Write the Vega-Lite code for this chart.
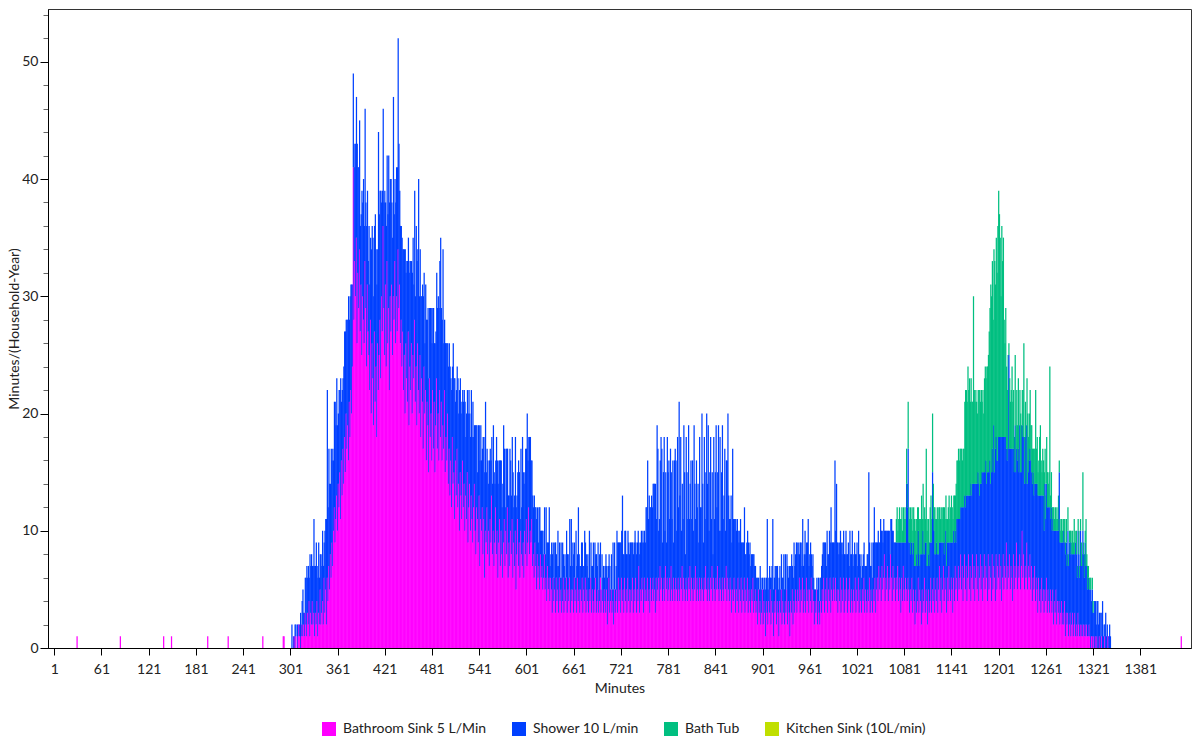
{
"$schema": "https://vega.github.io/schema/vega-lite/v6.json",
"width": 1143,
"height": 639,
"autosize": {"type": "none"},
"padding": {"left": 48, "top": 9, "right": 1, "bottom": 94},
"background": "white",
"config": {
  "view": {"stroke": "#333333", "strokeWidth": 1},
  "font": "Lato",
  "axis": {"labelFont": "Lato", "labelFontSize": 14, "labelColor": "#222222", "titleFont": "Lato", "titleFontSize": 14, "titleFontWeight": "normal", "titleColor": "#222222", "domainColor": "#000000", "tickColor": "#000000", "grid": false}
},
"data": {"values": [
{"m":30,"a":1},{"m":85,"a":1},{"m":140,"a":1},{"m":150,"a":1},{"m":196,"a":1},{"m":222,"a":1},{"m":266,"a":1},{"m":292,"a":1},{"m":293,"a":1},
{"m":303,"b":2},{"m":305,"b":1},{"m":306,"a":1},{"m":307,"b":2},{"m":308,"a":1,"b":1},{"m":310,"b":2},
{"m":311,"a":1,"b":1},{"m":312,"a":2},{"m":313,"a":1,"b":1},{"m":314,"b":3},{"m":315,"a":1,"b":1},{"m":316,"a":2,"b":2},{"m":317,"a":1,"b":4},{"m":318,"a":2,"b":1},{"m":319,"a":1,"b":2},{"m":320,"a":3,"b":3},
{"m":321,"a":2,"b":4},{"m":322,"a":1,"b":6},{"m":323,"a":3,"b":3},{"m":324,"a":2,"b":5},{"m":325,"a":4,"b":2},{"m":326,"a":1,"b":7},{"m":327,"a":3,"b":4},{"m":328,"a":2,"b":6},{"m":329,"a":4,"b":3},{"m":330,"a":2,"b":5},
{"m":331,"a":3,"b":8},{"m":332,"a":1,"b":6},{"m":333,"a":3,"b":4},{"m":334,"a":2,"b":7},{"m":335,"a":4,"b":3},{"m":336,"a":1,"b":5},{"m":337,"a":3,"b":6},{"m":338,"a":2,"b":4},{"m":339,"a":5,"b":3},{"m":340,"a":2,"b":6},
{"m":341,"a":3,"b":4},{"m":342,"a":4,"b":6},{"m":343,"a":2,"b":5},{"m":344,"a":6,"b":3},{"m":345,"a":3,"b":7},{"m":346,"a":5,"b":6},{"m":347,"a":2,"b":9},{"m":348,"a":6,"b":16},{"m":349,"a":4,"b":8},{"m":350,"a":7,"b":10},
{"m":351,"a":5,"b":9},{"m":352,"a":8,"b":6},{"m":353,"a":6,"b":11},{"m":354,"a":9,"b":7},{"m":355,"a":7,"b":10},{"m":356,"a":10,"b":6},{"m":357,"a":12,"b":9},{"m":358,"a":9,"b":12},{"m":359,"a":11,"b":8},{"m":360,"a":13,"b":10},
{"m":361,"a":10,"b":9},{"m":362,"a":14,"b":6},{"m":363,"a":12,"b":10},{"m":364,"a":15,"b":7},{"m":365,"a":11,"b":12},{"m":366,"a":16,"b":5},{"m":367,"a":13,"b":9},{"m":368,"a":17,"b":6},{"m":369,"a":14,"b":10},{"m":370,"a":18,"b":9},
{"m":371,"a":15,"b":12},{"m":372,"a":20,"b":8},{"m":373,"a":17,"b":11},{"m":374,"a":19,"b":9},{"m":375,"a":16,"b":14},{"m":376,"a":21,"b":7},{"m":377,"a":18,"b":12},{"m":378,"a":22,"b":9},{"m":379,"a":20,"b":11},{"m":380,"a":24,"b":7},
{"m":381,"a":41,"b":8},{"m":382,"a":28,"b":15},{"m":383,"a":33,"b":8},{"m":384,"a":30,"b":13},{"m":385,"a":35,"b":12},{"m":386,"a":26,"b":17},{"m":387,"a":32,"b":9},{"m":388,"a":29,"b":12},{"m":389,"a":34,"b":11},{"m":390,"a":27,"b":9},
{"m":391,"a":31,"b":6},{"m":392,"a":25,"b":14},{"m":393,"a":30,"b":8},{"m":394,"a":28,"b":12},{"m":395,"a":26,"b":10},{"m":396,"a":33,"b":13},{"m":397,"a":29,"b":9},{"m":398,"a":24,"b":12},{"m":399,"a":31,"b":8},{"m":400,"a":27,"b":6},
{"m":401,"a":25,"b":11},{"m":402,"a":22,"b":9},{"m":403,"a":28,"b":7},{"m":404,"a":20,"b":14},{"m":405,"a":26,"b":10},{"m":406,"a":23,"b":12},{"m":407,"a":19,"b":11},{"m":408,"a":27,"b":9},{"m":409,"a":21,"b":16},{"m":410,"a":24,"b":10},
{"m":411,"a":18,"b":13},{"m":412,"a":26,"b":8},{"m":413,"a":22,"b":22},{"m":414,"a":25,"b":12},{"m":415,"a":28,"b":11},{"m":416,"a":23,"b":16},{"m":417,"a":30,"b":8},{"m":418,"a":27,"b":12},{"m":419,"a":36,"b":10},{"m":420,"a":29,"b":9},
{"m":421,"a":25,"b":14},{"m":422,"a":31,"b":7},{"m":423,"a":24,"b":12},{"m":424,"a":33,"b":9},{"m":425,"a":26,"b":11},{"m":426,"a":29,"b":13},{"m":427,"a":22,"b":16},{"m":428,"a":30,"b":10},{"m":429,"a":27,"b":13},{"m":430,"a":31,"b":7},
{"m":431,"a":25,"b":10},{"m":432,"a":30,"b":17},{"m":433,"a":28,"b":9},{"m":434,"a":33,"b":7},{"m":435,"a":26,"b":12},{"m":436,"a":30,"b":11},{"m":437,"a":27,"b":14},{"m":438,"a":34,"b":18},{"m":439,"a":29,"b":14},{"m":440,"a":31,"b":8},
{"m":441,"a":26,"b":10},{"m":442,"a":28,"b":8},{"m":443,"a":24,"b":11},{"m":444,"a":27,"b":7},{"m":445,"a":22,"b":12},{"m":446,"a":25,"b":9},{"m":447,"a":20,"b":14},{"m":448,"a":26,"b":6},{"m":449,"a":23,"b":10},{"m":450,"a":21,"b":12},
{"m":451,"a":27,"b":8},{"m":452,"a":19,"b":13},{"m":453,"a":24,"b":9},{"m":454,"a":22,"b":11},{"m":455,"a":26,"b":7},{"m":456,"a":20,"b":12},{"m":457,"a":25,"b":10},{"m":458,"a":23,"b":8},{"m":459,"a":28,"b":11},{"m":460,"a":21,"b":9},
{"m":461,"a":24,"b":12},{"m":462,"a":19,"b":14},{"m":463,"a":26,"b":8},{"m":464,"a":22,"b":18},{"m":465,"a":20,"b":10},{"m":466,"a":25,"b":9},{"m":467,"a":18,"b":12},{"m":468,"a":23,"b":7},{"m":469,"a":21,"b":10},{"m":470,"a":17,"b":13},
{"m":471,"a":24,"b":8},{"m":472,"a":20,"b":6},{"m":473,"a":22,"b":9},{"m":474,"a":16,"b":12},{"m":475,"a":21,"b":7},{"m":476,"a":19,"b":10},{"m":477,"a":15,"b":8},{"m":478,"a":23,"b":6},{"m":479,"a":18,"b":11},{"m":480,"a":20,"b":9},
{"m":481,"a":16,"b":10},{"m":482,"a":22,"b":7},{"m":483,"a":17,"b":12},{"m":484,"a":21,"b":5},{"m":485,"a":15,"b":11},{"m":486,"a":19,"b":8},{"m":487,"a":23,"b":9},{"m":488,"a":17,"b":12},{"m":489,"a":20,"b":10},{"m":490,"a":16,"b":13},
{"m":491,"a":22,"b":11},{"m":492,"a":18,"b":17},{"m":493,"a":21,"b":8},{"m":494,"a":16,"b":12},{"m":495,"a":19,"b":15},{"m":496,"a":17,"b":9},{"m":497,"a":22,"b":6},{"m":498,"a":15,"b":11},{"m":499,"a":18,"b":8},{"m":500,"a":16,"b":10},
{"m":501,"a":20,"b":6},{"m":502,"a":14,"b":10},{"m":503,"a":17,"b":9},{"m":504,"a":13,"b":11},{"m":505,"a":16,"b":7},{"m":506,"a":12,"b":10},{"m":507,"a":18,"b":6},{"m":508,"a":14,"b":12},{"m":509,"a":15,"b":8},{"m":510,"a":11,"b":12},
{"m":511,"a":16,"b":5},{"m":512,"a":13,"b":9},{"m":513,"a":17,"b":7},{"m":514,"a":12,"b":11},{"m":515,"a":14,"b":6},{"m":516,"a":10,"b":12},{"m":517,"a":15,"b":8},{"m":518,"a":13,"b":7},{"m":519,"a":11,"b":10},{"m":520,"a":16,"b":6},
{"m":521,"a":12,"b":9},{"m":522,"a":14,"b":8},{"m":523,"a":10,"b":11},{"m":524,"a":13,"b":5},{"m":525,"a":11,"b":9},{"m":526,"a":15,"b":7},{"m":527,"a":9,"b":11},{"m":528,"a":12,"b":10},{"m":529,"a":14,"b":6},{"m":530,"a":10,"b":8},
{"m":531,"a":13,"b":9},{"m":532,"a":11,"b":7},{"m":533,"a":9,"b":12},{"m":534,"a":12,"b":6},{"m":535,"a":14,"b":5},{"m":536,"a":10,"b":9},{"m":537,"a":8,"b":11},{"m":538,"a":12,"b":7},{"m":539,"a":11,"b":4},{"m":540,"a":9,"b":10},
{"m":541,"a":13,"b":6},{"m":542,"a":7,"b":9},{"m":543,"a":11,"b":8},{"m":544,"a":10,"b":6},{"m":545,"a":12,"b":5},{"m":546,"a":8,"b":10},{"m":547,"a":11,"b":7},{"m":548,"a":6,"b":9},{"m":549,"a":10,"b":11},{"m":550,"a":9,"b":6},
{"m":551,"a":12,"b":5},{"m":552,"a":8,"b":8},{"m":553,"a":10,"b":4},{"m":554,"a":7,"b":9},{"m":555,"a":11,"b":6},{"m":556,"a":9,"b":7},{"m":557,"a":13,"b":5},{"m":558,"a":8,"b":6},{"m":559,"a":10,"b":9},{"m":560,"a":7,"b":8},
{"m":561,"a":9,"b":5},{"m":562,"a":12,"b":4},{"m":563,"a":8,"b":10},{"m":564,"a":10,"b":6},{"m":565,"a":6,"b":8},{"m":566,"a":9,"b":7},{"m":567,"a":11,"b":5},{"m":568,"a":7,"b":9},{"m":569,"a":10,"b":6},{"m":570,"a":8,"b":4},
{"m":571,"a":6,"b":8},{"m":572,"a":9,"b":10},{"m":573,"a":11,"b":6},{"m":574,"a":7,"b":5},{"m":575,"a":10,"b":7},{"m":576,"a":8,"b":9},{"m":577,"a":12,"b":5},{"m":578,"a":6,"b":7},{"m":579,"a":9,"b":4},{"m":580,"a":7,"b":10},
{"m":581,"a":10,"b":6},{"m":582,"a":8,"b":5},{"m":583,"a":11,"b":7},{"m":584,"a":6,"b":9},{"m":585,"a":9,"b":3},{"m":586,"a":7,"b":6},{"m":587,"a":10,"b":8},{"m":588,"a":5,"b":7},{"m":589,"a":8,"b":5},{"m":590,"a":11,"b":4},
{"m":591,"a":7,"b":9},{"m":592,"a":9,"b":6},{"m":593,"a":6,"b":5},{"m":594,"a":10,"b":7},{"m":595,"a":8,"b":4},{"m":596,"a":7,"b":11},{"m":597,"a":9,"b":6},{"m":598,"a":6,"b":8},{"m":599,"a":10,"b":5},{"m":600,"a":8,"b":9},
{"m":601,"a":11,"b":6},{"m":602,"a":7,"b":13},{"m":603,"a":9,"b":7},{"m":604,"a":12,"b":6},{"m":605,"a":8,"b":10},{"m":606,"a":10,"b":8},{"m":607,"a":9,"b":7},{"m":608,"a":11,"b":5},{"m":609,"a":7,"b":6},{"m":610,"a":8,"b":4},
{"m":611,"a":6,"b":7},{"m":612,"a":9,"b":3},{"m":613,"a":7,"b":5},{"m":614,"a":5,"b":6},{"m":615,"a":8,"b":4},{"m":616,"a":6,"b":3},{"m":617,"a":7,"b":5},{"m":618,"a":5,"b":7},{"m":619,"a":8,"b":2},{"m":620,"a":6,"b":4},
{"m":621,"a":7,"b":3},{"m":622,"a":5,"b":5},{"m":623,"a":6,"b":2},{"m":624,"a":8,"b":4},{"m":625,"a":5,"b":3},{"m":626,"a":6,"b":6},{"m":627,"a":4,"b":5},{"m":628,"a":7,"b":2},{"m":629,"a":5,"b":4},{"m":630,"a":6,"b":6},
{"m":631,"a":4,"b":3},{"m":632,"a":6,"b":2},{"m":633,"a":5,"b":4},{"m":634,"a":3,"b":5},{"m":635,"a":6,"b":3},{"m":636,"a":4,"b":2},{"m":637,"a":5,"b":4},{"m":638,"a":3,"b":6},{"m":639,"a":6,"b":2},{"m":640,"a":4,"b":3},
{"m":641,"a":5,"b":5},{"m":642,"a":3,"b":4},{"m":643,"a":6,"b":3},{"m":644,"a":4,"b":2},{"m":645,"a":5,"b":4},{"m":646,"a":3,"b":3},{"m":647,"a":4,"b":5},{"m":648,"a":6,"b":2},{"m":649,"a":3,"b":4},{"m":650,"a":5,"b":3},
{"m":651,"a":4,"b":2},{"m":652,"a":6,"b":4},{"m":653,"a":3,"b":5},{"m":654,"a":5,"b":3},{"m":655,"a":4,"b":2},{"m":656,"a":6,"b":5},{"m":657,"a":3,"b":4},{"m":658,"a":5,"b":6},{"m":659,"a":4,"b":3},{"m":660,"a":5,"b":4},
{"m":661,"a":3,"b":5},{"m":662,"a":6,"b":3},{"m":663,"a":4,"b":2},{"m":664,"a":5,"b":5},{"m":665,"a":3,"b":4},{"m":666,"a":6,"b":2},{"m":667,"a":4,"b":8},{"m":668,"a":5,"b":3},{"m":669,"a":3,"b":4},{"m":670,"a":5,"b":2},
{"m":671,"a":4,"b":5},{"m":672,"a":6,"b":3},{"m":673,"a":3,"b":4},{"m":674,"a":5,"b":2},{"m":675,"a":4,"b":6},{"m":676,"a":6,"b":3},{"m":677,"a":3,"b":5},{"m":678,"a":5,"b":2},{"m":679,"a":4,"b":4},{"m":680,"a":3,"b":3},
{"m":681,"a":5,"b":5},{"m":682,"a":4,"b":2},{"m":683,"a":6,"b":3},{"m":684,"a":3,"b":4},{"m":685,"a":5,"b":2},{"m":686,"a":4,"b":5},{"m":687,"a":3,"b":3},{"m":688,"a":5,"b":4},{"m":689,"a":6,"b":2},{"m":690,"a":3,"b":5},
{"m":691,"a":4,"b":3},{"m":692,"a":5,"b":4},{"m":693,"a":3,"b":2},{"m":694,"a":4,"b":4},{"m":695,"a":6,"b":3},{"m":696,"a":3,"b":2},{"m":697,"a":5,"b":3},{"m":698,"a":4,"b":2},{"m":699,"a":3,"b":4},{"m":700,"a":5,"b":1},
{"m":701,"a":4,"b":3},{"m":702,"a":3,"b":5},{"m":703,"a":5,"b":2},{"m":704,"a":2,"b":4},{"m":705,"a":4,"b":3},{"m":706,"a":6,"b":2},{"m":707,"a":3,"b":4},{"m":708,"a":4,"b":1},{"m":709,"a":5,"b":3},{"m":710,"a":3,"b":2},
{"m":711,"a":4,"b":5},{"m":712,"a":2,"b":3},{"m":713,"a":5,"b":4},{"m":714,"a":3,"b":2},{"m":715,"a":4,"b":3},{"m":716,"a":5,"b":5},{"m":717,"a":3,"b":6},{"m":718,"a":6,"b":3},{"m":719,"a":4,"b":5},{"m":720,"a":5,"b":4},
{"m":721,"a":3,"b":6},{"m":722,"a":6,"b":4},{"m":723,"a":4,"b":9},{"m":724,"a":5,"b":3},{"m":725,"a":3,"b":5},{"m":726,"a":6,"b":4},{"m":727,"a":4,"b":6},{"m":728,"a":5,"b":3},{"m":729,"a":3,"b":5},{"m":730,"a":6,"b":4},
{"m":731,"a":4,"b":5},{"m":732,"a":5,"b":3},{"m":733,"a":3,"b":6},{"m":734,"a":5,"b":4},{"m":735,"a":4,"b":5},{"m":736,"a":6,"b":3},{"m":737,"a":3,"b":5},{"m":738,"a":5,"b":4},{"m":739,"a":4,"b":6},{"m":740,"a":6,"b":3},
{"m":741,"a":3,"b":5},{"m":742,"a":5,"b":4},{"m":743,"a":4,"b":6},{"m":744,"a":7,"b":2},{"m":745,"a":3,"b":5},{"m":746,"a":5,"b":4},{"m":747,"a":4,"b":6},{"m":748,"a":6,"b":3},{"m":749,"a":5,"b":5},{"m":750,"a":3,"b":6},
{"m":751,"a":6,"b":4},{"m":752,"a":4,"b":5},{"m":753,"a":5,"b":7},{"m":754,"a":4,"b":8},{"m":755,"a":6,"b":10},{"m":756,"a":4,"b":7},{"m":757,"a":5,"b":8},{"m":758,"a":3,"b":9},{"m":759,"a":6,"b":6},{"m":760,"a":4,"b":9},
{"m":761,"a":5,"b":7},{"m":762,"a":6,"b":8},{"m":763,"a":4,"b":10},{"m":764,"a":5,"b":9},{"m":765,"a":3,"b":11},{"m":766,"a":6,"b":5},{"m":767,"a":4,"b":15},{"m":768,"a":5,"b":12},{"m":769,"a":6,"b":4},{"m":770,"a":4,"b":7},
{"m":771,"a":7,"b":9},{"m":772,"a":5,"b":13},{"m":773,"a":6,"b":11},{"m":774,"a":4,"b":5},{"m":775,"a":5,"b":10},{"m":776,"a":6,"b":12},{"m":777,"a":4,"b":6},{"m":778,"a":7,"b":8},{"m":779,"a":5,"b":4},{"m":780,"a":6,"b":12},
{"m":781,"a":4,"b":11},{"m":782,"a":5,"b":11},{"m":783,"a":6,"b":5},{"m":784,"a":4,"b":13},{"m":785,"a":7,"b":8},{"m":786,"a":5,"b":6},{"m":787,"a":4,"b":12},{"m":788,"a":6,"b":3},{"m":789,"a":5,"b":11},{"m":790,"a":4,"b":13},
{"m":791,"a":6,"b":10},{"m":792,"a":5,"b":5},{"m":793,"a":4,"b":14},{"m":794,"a":6,"b":6},{"m":795,"a":5,"b":16},{"m":796,"a":4,"b":9},{"m":797,"a":6,"b":12},{"m":798,"a":5,"b":5},{"m":799,"a":7,"b":7},{"m":800,"a":4,"b":7},
{"m":801,"a":6,"b":13},{"m":802,"a":5,"b":10},{"m":803,"a":4,"b":4},{"m":804,"a":6,"b":12},{"m":805,"a":5,"b":10},{"m":806,"a":4,"b":7},{"m":807,"a":6,"b":13},{"m":808,"a":5,"b":6},{"m":809,"a":7,"b":7},{"m":810,"a":4,"b":12},
{"m":811,"a":6,"b":5},{"m":812,"a":5,"b":11},{"m":813,"a":4,"b":6},{"m":814,"a":6,"b":13},{"m":815,"a":5,"b":9},{"m":816,"a":7,"b":4},{"m":817,"a":4,"b":12},{"m":818,"a":6,"b":6},{"m":819,"a":5,"b":9},{"m":820,"a":4,"b":5},
{"m":821,"a":6,"b":12},{"m":822,"a":5,"b":7},{"m":823,"a":4,"b":8},{"m":824,"a":6,"b":14},{"m":825,"a":5,"b":9},{"m":826,"a":4,"b":5},{"m":827,"a":6,"b":12},{"m":828,"a":5,"b":6},{"m":829,"a":7,"b":8},{"m":830,"a":5,"b":15},
{"m":831,"a":4,"b":10},{"m":832,"a":6,"b":13},{"m":833,"a":5,"b":5},{"m":834,"a":4,"b":11},{"m":835,"a":6,"b":12},{"m":836,"a":5,"b":6},{"m":837,"a":7,"b":8},{"m":838,"a":4,"b":4},{"m":839,"a":6,"b":12},{"m":840,"a":5,"b":6},
{"m":841,"a":4,"b":11},{"m":842,"a":6,"b":13},{"m":843,"a":5,"b":7},{"m":844,"a":7,"b":8},{"m":845,"a":5,"b":14},{"m":846,"a":4,"b":6},{"m":847,"a":6,"b":12},{"m":848,"a":5,"b":5},{"m":849,"a":4,"b":11},{"m":850,"a":6,"b":13},
{"m":851,"a":5,"b":6},{"m":852,"a":4,"b":9},{"m":853,"a":6,"b":11},{"m":854,"a":5,"b":5},{"m":855,"a":7,"b":9},{"m":856,"a":4,"b":12},{"m":857,"a":6,"b":14},{"m":858,"a":5,"b":8},{"m":859,"a":4,"b":7},{"m":860,"a":6,"b":5},
{"m":861,"a":5,"b":8},{"m":862,"a":3,"b":6},{"m":863,"a":5,"b":12},{"m":864,"a":4,"b":7},{"m":865,"a":6,"b":5},{"m":866,"a":5,"b":6},{"m":867,"a":3,"b":8},{"m":868,"a":5,"b":5},{"m":869,"a":4,"b":7},{"m":870,"a":6,"b":4},
{"m":871,"a":3,"b":6},{"m":872,"a":5,"b":5},{"m":873,"a":4,"b":7},{"m":874,"a":6,"b":3},{"m":875,"a":3,"b":6},{"m":876,"a":5,"b":4},{"m":877,"a":4,"b":5},{"m":878,"a":6,"b":6},{"m":879,"a":3,"b":5},{"m":880,"a":5,"b":3},
{"m":881,"a":4,"b":5},{"m":882,"a":6,"b":4},{"m":883,"a":3,"b":6},{"m":884,"a":5,"b":3},{"m":885,"a":4,"b":5},{"m":886,"a":3,"b":4},{"m":887,"a":5,"b":3},{"m":888,"a":4,"b":4},{"m":889,"a":6,"b":2},{"m":890,"a":3,"b":5},
{"m":891,"a":4,"b":3},{"m":892,"a":5,"b":2},{"m":893,"a":3,"b":3},{"m":894,"a":4,"b":2},{"m":895,"a":2,"b":4},{"m":896,"a":5,"b":1},{"m":897,"a":3,"b":2},{"m":898,"a":4,"b":3},{"m":899,"a":2,"b":4},{"m":900,"a":3,"b":2},
{"m":901,"a":5,"b":1},{"m":902,"a":2,"b":3},{"m":903,"a":4,"b":2},{"m":904,"a":3,"b":3},{"m":905,"a":1,"b":4},{"m":906,"a":4,"b":2},{"m":907,"a":3,"b":8},{"m":908,"a":2,"b":3},{"m":909,"a":4,"b":2},{"m":910,"a":3,"b":4},
{"m":911,"a":5,"b":1},{"m":912,"a":2,"b":4},{"m":913,"a":4,"b":3},{"m":914,"a":3,"b":8},{"m":915,"a":1,"b":4},{"m":916,"a":4,"b":2},{"m":917,"a":3,"b":4},{"m":918,"a":5,"b":2},{"m":919,"a":2,"b":5},{"m":920,"a":4,"b":3},
{"m":921,"a":3,"b":2},{"m":922,"a":1,"b":5},{"m":923,"a":4,"b":3},{"m":924,"a":3,"b":2},{"m":925,"a":5,"b":3},{"m":926,"a":2,"b":4},{"m":927,"a":4,"b":2},{"m":928,"a":3,"b":5},{"m":929,"a":2,"b":3},{"m":930,"a":4,"b":4},
{"m":931,"a":3,"b":2},{"m":932,"a":5,"b":3},{"m":933,"a":2,"b":5},{"m":934,"a":4,"b":2},{"m":935,"a":3,"b":4},{"m":936,"a":1,"b":6},{"m":937,"a":4,"b":3},{"m":938,"a":3,"b":5},{"m":939,"a":5,"b":2},{"m":940,"a":2,"b":4},
{"m":941,"a":4,"b":5},{"m":942,"a":3,"b":4},{"m":943,"a":5,"b":3},{"m":944,"a":4,"b":5},{"m":945,"a":3,"b":6},{"m":946,"a":5,"b":3},{"m":947,"a":4,"b":5},{"m":948,"a":6,"b":2},{"m":949,"a":3,"b":6},{"m":950,"a":5,"b":4},
{"m":951,"a":4,"b":3},{"m":952,"a":6,"b":5},{"m":953,"a":3,"b":4},{"m":954,"a":5,"b":3},{"m":955,"a":4,"b":6},{"m":956,"a":3,"b":5},{"m":957,"a":6,"b":3},{"m":958,"a":4,"b":5},{"m":959,"a":5,"b":6},{"m":960,"a":3,"b":4},
{"m":961,"a":5,"b":3},{"m":962,"a":4,"b":5},{"m":963,"a":6,"b":2},{"m":964,"a":3,"b":4},{"m":965,"a":5,"b":3},{"m":966,"a":4,"b":2},{"m":967,"a":2,"b":3},{"m":968,"a":4,"b":1},{"m":969,"a":3,"b":2},{"m":970,"a":5,"b":1},
{"m":971,"a":2,"b":3},{"m":972,"a":4,"b":2},{"m":973,"a":3,"b":1},{"m":974,"a":2,"b":4},{"m":975,"a":4,"b":2},{"m":976,"a":3,"b":4},{"m":977,"a":5,"b":3},{"m":978,"a":4,"b":5},{"m":979,"a":6,"b":3},{"m":980,"a":3,"b":6},
{"m":981,"a":5,"b":4},{"m":982,"a":4,"b":3},{"m":983,"a":6,"b":4},{"m":984,"a":3,"b":5},{"m":985,"a":5,"b":3},{"m":986,"a":4,"b":6},{"m":987,"a":6,"b":3},{"m":988,"a":3,"b":9},{"m":989,"a":5,"b":4},{"m":990,"a":4,"b":5},
{"m":991,"a":6,"b":3},{"m":992,"a":5,"b":4},{"m":993,"a":4,"b":12},{"m":994,"a":6,"b":4},{"m":995,"a":4,"b":10},{"m":996,"a":5,"b":4},{"m":997,"a":3,"b":6},{"m":998,"a":5,"b":3},{"m":999,"a":4,"b":5},{"m":1000,"a":6,"b":4},
{"m":1001,"a":3,"b":6},{"m":1002,"a":5,"b":3},{"m":1003,"a":4,"b":5},{"m":1004,"a":6,"b":4},{"m":1005,"a":3,"b":5},{"m":1006,"a":5,"b":3},{"m":1007,"a":4,"b":6},{"m":1008,"a":6,"b":2},{"m":1009,"a":3,"b":5},{"m":1010,"a":5,"b":4},
{"m":1011,"a":4,"b":3},{"m":1012,"a":6,"b":4},{"m":1013,"a":3,"b":5},{"m":1014,"a":5,"b":3},{"m":1015,"a":4,"b":6},{"m":1016,"a":3,"b":4},{"m":1017,"a":5,"b":3},{"m":1018,"a":4,"b":5},{"m":1019,"a":6,"b":2},{"m":1020,"a":3,"b":5},
{"m":1021,"a":5,"b":4},{"m":1022,"a":4,"b":3},{"m":1023,"a":6,"b":4},{"m":1024,"a":3,"b":5},{"m":1025,"a":5,"b":2},{"m":1026,"a":4,"b":4},{"m":1027,"a":3,"b":3},{"m":1028,"a":5,"b":2},{"m":1029,"a":4,"b":4},{"m":1030,"a":6,"b":3},
{"m":1031,"a":3,"b":4},{"m":1032,"a":5,"b":2},{"m":1033,"a":4,"b":3},{"m":1034,"a":3,"b":5},{"m":1035,"a":5,"b":3},{"m":1036,"a":4,"b":11},{"m":1037,"a":6,"b":3},{"m":1038,"a":3,"b":4},{"m":1039,"a":5,"b":2},{"m":1040,"a":4,"b":5},
{"m":1041,"a":3,"b":3},{"m":1042,"a":5,"b":4},{"m":1043,"a":4,"b":8},{"m":1044,"a":6,"b":3},{"m":1045,"a":3,"b":6},{"m":1046,"a":5,"b":4},{"m":1047,"a":6,"b":3},{"m":1048,"a":4,"b":6},{"m":1049,"a":7,"b":2},{"m":1050,"a":5,"b":4},
{"m":1051,"a":6,"b":5},{"m":1052,"a":4,"b":6},{"m":1053,"a":7,"b":3},{"m":1054,"a":5,"b":4},{"m":1055,"a":6,"b":5},{"m":1056,"a":8,"b":2},{"m":1057,"a":4,"b":6},{"m":1058,"a":6,"b":4},{"m":1059,"a":5,"b":5},{"m":1060,"a":7,"b":3},
{"m":1061,"a":4,"b":6},{"m":1062,"a":6,"b":4},{"m":1063,"a":5,"b":3},{"m":1064,"a":8,"b":3},{"m":1065,"a":6,"b":5},{"m":1066,"a":4,"b":6},{"m":1067,"a":7,"b":3},{"m":1068,"a":5,"b":4},{"m":1069,"a":6,"b":3},{"m":1070,"a":4,"b":5},
{"m":1071,"a":6,"b":3,"c":2},{"m":1072,"a":5,"b":4,"c":3},{"m":1073,"a":7,"b":2,"c":1},{"m":1074,"a":4,"b":5,"c":2},{"m":1075,"a":6,"b":3,"c":3},{"m":1076,"a":5,"b":4,"c":2},{"m":1077,"a":3,"b":6,"c":2},{"m":1078,"a":6,"b":3,"c":3},{"m":1079,"a":4,"b":5,"c":1},{"m":1080,"a":7,"b":2,"c":3},
{"m":1081,"a":5,"b":4,"c":2},{"m":1082,"a":4,"b":5,"c":3},{"m":1083,"a":6,"b":3,"c":2},{"m":1084,"a":5,"b":9,"c":3},{"m":1085,"a":4,"b":8,"c":2},{"m":1086,"a":6,"b":11,"c":4},{"m":1087,"a":5,"b":4,"c":3},{"m":1088,"a":3,"b":6,"c":2},{"m":1089,"a":5,"b":3,"c":4},{"m":1090,"a":4,"b":5,"c":2},
{"m":1091,"a":6,"b":3,"c":3},{"m":1092,"a":3,"b":5,"c":2},{"m":1093,"a":5,"b":4,"c":3},{"m":1094,"a":4,"b":3,"c":4},{"m":1095,"a":2,"b":5,"c":3},{"m":1096,"a":5,"b":2,"c":4},{"m":1097,"a":3,"b":5,"c":3},{"m":1098,"a":4,"b":3,"c":5},{"m":1099,"a":6,"b":4,"c":2},{"m":1100,"a":3,"b":5,"c":3},
{"m":1101,"a":5,"b":2,"c":4},{"m":1102,"a":4,"b":4,"c":3},{"m":1103,"a":2,"b":6,"c":5},{"m":1104,"a":5,"b":3,"c":3},{"m":1105,"a":3,"b":7,"c":4},{"m":1106,"a":4,"b":4,"c":3},{"m":1107,"a":6,"b":2,"c":4},{"m":1108,"a":3,"b":6,"c":2},{"m":1109,"a":5,"b":4,"c":8},{"m":1110,"a":4,"b":3,"c":3},
{"m":1111,"a":2,"b":5,"c":4},{"m":1112,"a":5,"b":3,"c":3},{"m":1113,"a":3,"b":4,"c":2},{"m":1114,"a":4,"b":5,"c":3},{"m":1115,"a":6,"b":3,"c":4},{"m":1116,"a":3,"b":6,"c":2},{"m":1117,"a":5,"b":10,"c":5},{"m":1118,"a":4,"b":7,"c":3},{"m":1119,"a":6,"b":4,"c":2},{"m":1120,"a":3,"b":5,"c":4},
{"m":1121,"a":5,"b":3,"c":3},{"m":1122,"a":4,"b":5,"c":2},{"m":1123,"a":6,"b":2,"c":4},{"m":1124,"a":3,"b":5,"c":3},{"m":1125,"a":5,"b":3,"c":4},{"m":1126,"a":7,"b":2,"c":3},{"m":1127,"a":4,"b":5,"c":2},{"m":1128,"a":6,"b":3,"c":3},{"m":1129,"a":3,"b":6,"c":2},{"m":1130,"a":5,"b":4,"c":3},
{"m":1131,"a":7,"b":2,"c":3},{"m":1132,"a":4,"b":4,"c":4},{"m":1133,"a":6,"b":3,"c":2},{"m":1134,"a":5,"b":5,"c":3},{"m":1135,"a":3,"b":4,"c":4},{"m":1136,"a":6,"b":3,"c":2},{"m":1137,"a":4,"b":5,"c":3},{"m":1138,"a":7,"b":2,"c":4},{"m":1139,"a":5,"b":4,"c":2},{"m":1140,"a":4,"b":5,"c":3},
{"m":1141,"a":6,"b":3,"c":4},{"m":1142,"a":5,"b":4,"c":3},{"m":1143,"a":3,"b":6,"c":2},{"m":1144,"a":6,"b":4,"c":3},{"m":1145,"a":4,"b":5,"c":4},{"m":1146,"a":7,"b":3,"c":3},{"m":1147,"a":5,"b":4,"c":5},{"m":1148,"a":6,"b":5,"c":5},{"m":1149,"a":4,"b":7,"c":5},{"m":1150,"a":7,"b":4,"c":6},
{"m":1151,"a":5,"b":6,"c":5},{"m":1152,"a":6,"b":5,"c":6},{"m":1153,"a":8,"b":4,"c":5},{"m":1154,"a":5,"b":7,"c":5},{"m":1155,"a":7,"b":5,"c":4},{"m":1156,"a":4,"b":8,"c":5},{"m":1157,"a":6,"b":6,"c":5},{"m":1158,"a":8,"b":5,"c":8},{"m":1159,"a":5,"b":7,"c":10},{"m":1160,"a":7,"b":6,"c":9},
{"m":1161,"a":4,"b":9,"c":8},{"m":1162,"a":6,"b":7,"c":11},{"m":1163,"a":8,"b":5,"c":9},{"m":1164,"a":5,"b":8,"c":10},{"m":1165,"a":7,"b":6,"c":8},{"m":1166,"a":4,"b":10,"c":9},{"m":1167,"a":6,"b":7,"c":8},{"m":1168,"a":8,"b":6,"c":7},{"m":1169,"a":5,"b":9,"c":16},{"m":1170,"a":7,"b":7,"c":8},
{"m":1171,"a":4,"b":10,"c":7},{"m":1172,"a":6,"b":8,"c":8},{"m":1173,"a":8,"b":6,"c":7},{"m":1174,"a":5,"b":9,"c":6},{"m":1175,"a":7,"b":8,"c":7},{"m":1176,"a":4,"b":10,"c":8},{"m":1177,"a":6,"b":7,"c":9},{"m":1178,"a":8,"b":6,"c":7},{"m":1179,"a":5,"b":9,"c":8},{"m":1180,"a":7,"b":8,"c":6},
{"m":1181,"a":4,"b":11,"c":7},{"m":1182,"a":6,"b":9,"c":5},{"m":1183,"a":8,"b":7,"c":8},{"m":1184,"a":5,"b":10,"c":9},{"m":1185,"a":7,"b":9,"c":7},{"m":1186,"a":6,"b":8,"c":10},{"m":1187,"a":4,"b":11,"c":9},{"m":1188,"a":8,"b":7,"c":10},{"m":1189,"a":5,"b":10,"c":12},{"m":1190,"a":7,"b":9,"c":13},
{"m":1191,"a":6,"b":8,"c":17},{"m":1192,"a":4,"b":11,"c":15},{"m":1193,"a":8,"b":9,"c":16},{"m":1194,"a":5,"b":10,"c":13},{"m":1195,"a":7,"b":12,"c":15},{"m":1196,"a":6,"b":9,"c":18},{"m":1197,"a":4,"b":13,"c":14},{"m":1198,"a":8,"b":10,"c":17},{"m":1199,"a":5,"b":11,"c":16},{"m":1200,"a":7,"b":9,"c":20},
{"m":1201,"a":6,"b":12,"c":21},{"m":1202,"a":8,"b":10,"c":19},{"m":1203,"a":5,"b":13,"c":17},{"m":1204,"a":7,"b":11,"c":12},{"m":1205,"a":4,"b":14,"c":18},{"m":1206,"a":6,"b":12,"c":15},{"m":1207,"a":8,"b":10,"c":17},{"m":1208,"a":5,"b":13,"c":10},{"m":1209,"a":7,"b":11,"c":8},{"m":1210,"a":6,"b":12,"c":11},
{"m":1211,"a":9,"b":8,"c":7},{"m":1212,"a":5,"b":11,"c":6},{"m":1213,"a":7,"b":10,"c":8},{"m":1214,"a":6,"b":19,"c":1},{"m":1215,"a":8,"b":9,"c":6},{"m":1216,"a":5,"b":12,"c":4},{"m":1217,"a":7,"b":10,"c":5},{"m":1218,"a":6,"b":11,"c":7},{"m":1219,"a":4,"b":13,"c":4},{"m":1220,"a":8,"b":9,"c":5},
{"m":1221,"a":5,"b":10,"c":3},{"m":1222,"a":7,"b":12,"c":6},{"m":1223,"a":6,"b":9,"c":4},{"m":1224,"a":9,"b":8,"c":5},{"m":1225,"a":5,"b":11,"c":3},{"m":1226,"a":7,"b":10,"c":6},{"m":1227,"a":6,"b":9,"c":4},{"m":1228,"a":8,"b":11,"c":3},{"m":1229,"a":5,"b":10,"c":5},{"m":1230,"a":7,"b":8,"c":4},
{"m":1231,"a":10,"b":9,"c":3},{"m":1232,"a":6,"b":12,"c":4},{"m":1233,"a":8,"b":10,"c":8},{"m":1234,"a":5,"b":9,"c":4},{"m":1235,"a":7,"b":11,"c":3},{"m":1236,"a":6,"b":8,"c":5},{"m":1237,"a":9,"b":10,"c":4},{"m":1238,"a":5,"b":9,"c":6},{"m":1239,"a":7,"b":8,"c":3},{"m":1240,"a":6,"b":10,"c":4},
{"m":1241,"a":8,"b":9,"c":5},{"m":1242,"a":5,"b":11,"c":3},{"m":1243,"a":7,"b":8,"c":4},{"m":1244,"a":4,"b":10,"c":3},{"m":1245,"a":6,"b":9,"c":2},{"m":1246,"a":5,"b":8,"c":4},{"m":1247,"a":7,"b":7,"c":3},{"m":1248,"a":4,"b":10,"c":8},{"m":1249,"a":6,"b":8,"c":3},{"m":1250,"a":5,"b":9,"c":4},
{"m":1251,"a":3,"b":10,"c":2},{"m":1252,"a":6,"b":7,"c":3},{"m":1253,"a":4,"b":9,"c":5},{"m":1254,"a":5,"b":8,"c":6},{"m":1255,"a":3,"b":10,"c":3},{"m":1256,"a":6,"b":7,"c":2},{"m":1257,"a":4,"b":9,"c":4},{"m":1258,"a":5,"b":8,"c":3},{"m":1259,"a":3,"b":7,"c":5},{"m":1260,"a":5,"b":9,"c":3},
{"m":1261,"a":4,"b":7,"c":2},{"m":1262,"a":6,"b":8,"c":4},{"m":1263,"a":3,"b":9,"c":3},{"m":1264,"a":5,"b":7,"c":2},{"m":1265,"a":4,"b":8,"c":3},{"m":1266,"a":3,"b":9,"c":12},{"m":1267,"a":5,"b":6,"c":2},{"m":1268,"a":4,"b":8,"c":3},{"m":1269,"a":3,"b":7,"c":2},{"m":1270,"a":5,"b":6,"c":1},
{"m":1271,"a":2,"b":8,"c":2},{"m":1272,"a":4,"b":6,"c":1},{"m":1273,"a":3,"b":7,"c":2},{"m":1274,"a":5,"b":5,"c":1},{"m":1275,"a":2,"b":8,"c":2},{"m":1276,"a":4,"b":6,"c":1},{"m":1277,"a":3,"b":7,"c":3},{"m":1278,"a":4,"b":11,"c":1},{"m":1279,"a":2,"b":7,"c":2},{"m":1280,"a":3,"b":6,"c":1},
{"m":1281,"a":4,"b":5,"c":2},{"m":1282,"a":2,"b":7,"c":1},{"m":1283,"a":3,"b":6,"c":2},{"m":1284,"a":2,"b":8,"c":1},{"m":1285,"a":4,"b":5,"c":2},{"m":1286,"a":1,"b":7,"c":1},{"m":1287,"a":3,"b":6,"c":2},{"m":1288,"a":2,"b":5,"c":1},{"m":1289,"a":3,"b":7,"c":2},{"m":1290,"a":1,"b":6,"c":1},
{"m":1291,"a":2,"b":7,"c":1},{"m":1292,"a":3,"b":5,"c":2},{"m":1293,"a":1,"b":8,"c":1},{"m":1294,"a":2,"b":6,"c":1},{"m":1295,"a":3,"b":5,"c":2},{"m":1296,"a":1,"b":7,"c":1},{"m":1297,"a":2,"b":6,"c":3},{"m":1298,"a":3,"b":5,"c":1},{"m":1299,"a":1,"b":8,"c":1},{"m":1300,"a":2,"b":6,"c":2},
{"m":1301,"a":1,"b":5,"c":1},{"m":1302,"a":3,"b":7,"c":1},{"m":1303,"a":2,"b":6,"c":2},{"m":1304,"a":1,"b":5,"c":1},{"m":1305,"a":2,"b":8,"c":1},{"m":1306,"a":1,"b":6,"c":2},{"m":1307,"a":2,"b":5,"c":1},{"m":1308,"a":1,"b":9,"c":5},{"m":1309,"a":2,"b":6,"c":1},{"m":1310,"a":1,"b":5,"c":2},
{"m":1311,"a":2,"b":7,"c":1},{"m":1312,"a":1,"b":6,"c":4},{"m":1313,"a":2,"b":5,"c":1},{"m":1314,"a":1,"b":4,"c":2},{"m":1315,"a":1,"b":5,"c":1},{"m":1316,"a":2,"b":3,"c":1},{"m":1317,"a":1,"b":4,"c":1},{"m":1318,"b":5,"c":1},{"m":1319,"a":1,"b":3},{"m":1320,"a":1,"b":4,"c":1},
{"m":1321,"b":3,"c":1},{"m":1322,"a":1,"b":2},{"m":1323,"b":4},{"m":1324,"a":1,"b":3},{"m":1325,"b":2},{"m":1326,"a":1,"b":3},{"m":1327,"b":4},{"m":1328,"b":2},{"m":1329,"a":1,"b":2},{"m":1330,"b":3},
{"m":1331,"b":1},{"m":1332,"a":1,"b":2},{"m":1333,"b":4},{"m":1334,"b":1},{"m":1335,"b":2},{"m":1336,"a":1,"b":1},{"m":1337,"b":3},{"m":1338,"b":1},{"m":1339,"b":2},{"m":1340,"a":1},
{"m":1341,"b":1},{"m":1342,"b":2},{"m":1343,"b":1},{"m":1433,"a":1}
]},
"transform": [
  {"fold": ["a", "b", "c"], "as": ["k", "v"]},
  {"filter": "datum.v > 0"},
  {"lookup": "k", "from": {"data": {"values": [
    {"k": "a", "name": "Bathroom Sink 5 L/Min"},
    {"k": "b", "name": "Shower 10 L/min"},
    {"k": "c", "name": "Bath Tub"},
    {"k": "d", "name": "Kitchen Sink (10L/min)"}
  ]}, "key": "k", "fields": ["name"]}}
],
"mark": {"type": "bar", "width": 1.25, "strokeWidth": 0},
"encoding": {
  "x": {"field": "m", "type": "quantitative",
    "scale": {"domain": [-0.6, 1439], "nice": false, "zero": false},
    "axis": {"title": "Minutes", "format": "d", "values": [1,61,121,181,241,301,361,421,481,541,601,661,721,781,841,901,961,1021,1081,1141,1201,1261,1321,1381], "tickSize": 7, "labelPadding": 7, "labelFlush": false, "labelOverlap": false, "titlePadding": 5}},
  "y": {"field": "v", "type": "quantitative", "stack": "zero",
    "scale": {"domain": [0, 54.5], "nice": false},
    "axis": {"title": "Minutes/(Household-Year)", "values": [0,2,4,6,8,10,12,14,16,18,20,22,24,26,28,30,32,34,36,38,40,42,44,46,48,50,52,54],
      "labelExpr": "datum.value % 10 === 0 ? datum.label : ''",
      "tickSize": {"condition": {"test": "datum.value % 10 === 0", "value": 8}, "value": 5},
      "tickColor": {"condition": {"test": "datum.value % 10 === 0", "value": "#000000"}, "value": "#666666"},
      "labelPadding": 2, "titlePadding": 0, "labelOverlap": false}},
  "color": {"field": "name", "type": "nominal",
    "scale": {"domain": ["Bathroom Sink 5 L/Min", "Shower 10 L/min", "Bath Tub", "Kitchen Sink (10L/min)"], "range": ["#FF00FF", "#0040FF", "#00BF80", "#C0DF00"]},
    "legend": {"title": null, "orient": "none", "legendX": 274, "legendY": 713, "direction": "horizontal", "symbolType": "square", "symbolSize": 196, "symbolStrokeWidth": 0, "symbolOpacity": 1, "labelFont": "Lato", "labelFontSize": 14, "labelColor": "#222222", "labelOffset": 7, "columnPadding": 25, "labelLimit": 300}},
  "order": {"field": "k", "sort": "ascending"}
}
}
